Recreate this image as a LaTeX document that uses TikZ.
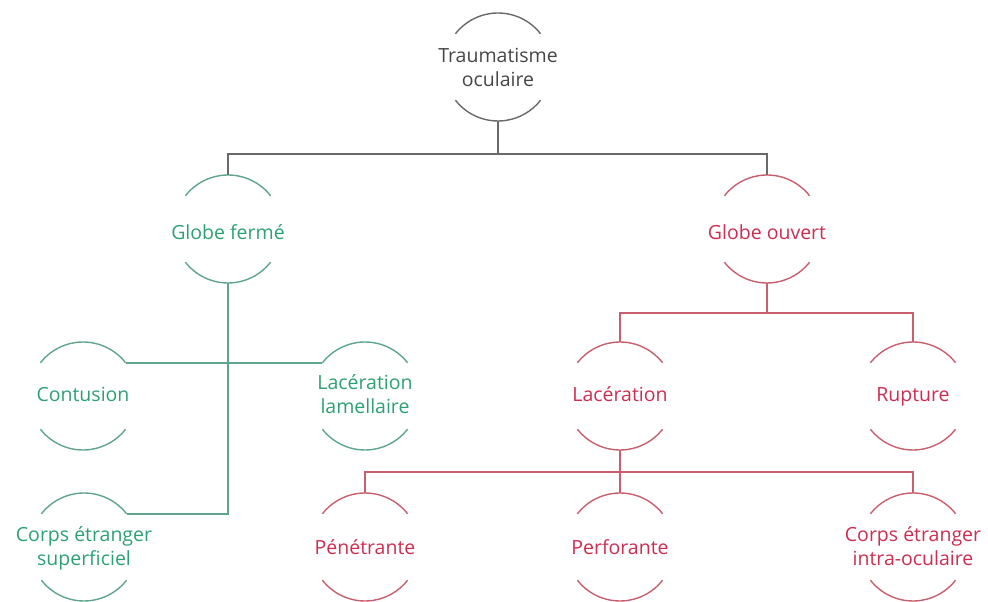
\documentclass[tikz,border=0pt]{standalone}
\usepackage{fontspec}
\setmainfont{Open Sans}
\definecolor{graytxt}{RGB}{70,70,70}
\definecolor{grayln}{RGB}{105,105,105}
\definecolor{greentxt}{RGB}{45,160,115}
\definecolor{greenln}{RGB}{95,165,140}
\definecolor{redtxt}{RGB}{205,45,80}
\definecolor{redln}{RGB}{200,95,110}
% centred label that does not change its bubble's size; optional drop below centre
\newcommand\bubbletext[2][3pt]{\raisebox{\dimexpr-#1-4.9pt\relax}[0pt][0pt]{\makebox[0pt][c]{\begin{tabular}{@{}c@{}}#2\end{tabular}}}}
\begin{document}
\begin{tikzpicture}[x=1pt,y=1pt,
  bubble/.style={circle,minimum size=108pt,inner sep=0pt,outer sep=0pt,
    font=\fontsize{19.5}{24}\selectfont},
  grayb/.style={bubble,text=graytxt},
  greenb/.style={bubble,text=greentxt},
  redb/.style={bubble,text=redtxt},
  arcline/.style={line width=1.4pt},
  link/.style={line width=1.7pt}]
\useasboundingbox (0,0) rectangle (988,602);

% two-arc outline around a bubble node
\newcommand\bubblearcs[2]{%
  \draw[arcline,#2] ([shift={(38:54pt)}]#1.center) arc[start angle=38,end angle=142,radius=54pt];
  \draw[arcline,#2] ([shift={(218:54pt)}]#1.center) arc[start angle=218,end angle=322,radius=54pt];}

% nodes
\node[grayb]  (trauma) at (498,535) {\bubbletext{Traumatisme\\oculaire}};
\node[greenb] (ferme)  at (228,373) {\bubbletext[6pt]{Globe fermé}};
\node[redb]   (ouvert) at (767,373) {\bubbletext[6pt]{Globe ouvert}};
\node[greenb] (contusion)  at (83,206)  {\bubbletext[1pt]{Contusion}};
\node[greenb] (lamellaire) at (365,206) {\bubbletext[1pt]{Lacération\\lamellaire}};
\node[redb]   (laceration) at (620,206) {\bubbletext[1pt]{Lacération}};
\node[redb]   (rupture)    at (913,206) {\bubbletext[1pt]{Rupture}};
\node[greenb] (superficiel) at (84,55)  {\bubbletext[2pt]{Corps étranger\\superficiel}};
\node[redb]   (penetrante)  at (365,55) {\bubbletext{Pénétrante}};
\node[redb]   (perforante)  at (620,55) {\bubbletext{Perforante}};
\node[redb]   (intra)       at (913,55) {\bubbletext[2pt]{Corps étranger\\intra-oculaire}};

\bubblearcs{trauma}{grayln}
\bubblearcs{ferme}{greenln}
\bubblearcs{contusion}{greenln}
\bubblearcs{lamellaire}{greenln}
\bubblearcs{superficiel}{greenln}
\bubblearcs{ouvert}{redln}
\bubblearcs{laceration}{redln}
\bubblearcs{rupture}{redln}
\bubblearcs{penetrante}{redln}
\bubblearcs{perforante}{redln}
\bubblearcs{intra}{redln}

% connectors
\draw[link,grayln] (trauma.south) -- (trauma.south |- 0,448) coordinate (bus);
\draw[link,grayln] (ferme.north) |- (bus) -| (ouvert.north);

\draw[link,greenln] (ferme.south) |- (superficiel.38);
\draw[link,greenln] (contusion.38) -- (lamellaire.142);

\draw[link,redln] (ouvert.south) -- (ouvert.south |- 0,289) coordinate (busb);
\draw[link,redln] (laceration.north) |- (busb) -| (rupture.north);

\draw[link,redln] (laceration.south) -- (laceration.south |- 0,130) coordinate (busc);
\draw[link,redln] (penetrante.north) |- (busc) -| (intra.north);
\draw[link,redln] (busc) -- (perforante.north);
\end{tikzpicture}
\end{document}
